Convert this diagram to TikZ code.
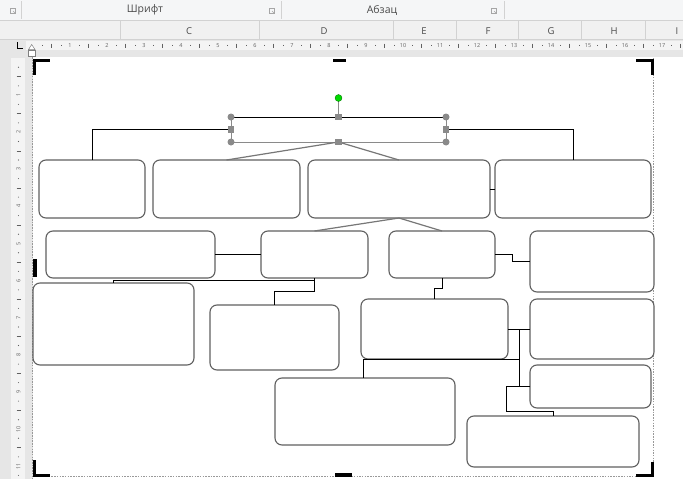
\documentclass[tikz,border=0pt]{standalone}
\usepackage{fontspec}
\setmainfont{Open Sans}
\definecolor{boxc}{HTML}{606060}
\definecolor{slant}{HTML}{777777}
\definecolor{handle}{HTML}{8A8A8A}
\definecolor{ribbonbg}{HTML}{F5F6F7}
\definecolor{headbg}{HTML}{F1F1F1}
\definecolor{rulerbg}{HTML}{E6E6E6}
\definecolor{rulerstrip}{HTML}{F4F4F4}
\definecolor{rtext}{HTML}{606060}
\definecolor{gtext}{HTML}{4A4A4A}
\definecolor{sepc}{HTML}{D2D2D2}
\begin{document}
\begin{tikzpicture}[x=1pt,y=-1pt,
  box/.style={draw=boxc, line width=1.1pt, rounded corners=7pt, inner sep=0pt, outer sep=0pt, fill=white},
  conn/.style={draw=black, line width=0.75pt},
  sconn/.style={draw=slant, line width=1.2pt},
  hcirc/.style={circle, fill=handle, inner sep=0pt, minimum size=7pt},
  hsq/.style={rectangle, fill=handle, inner sep=0pt, minimum size=6.5pt},
  cmark/.style={fill=black},
  rnum/.style={font=\fontsize{5.5}{6}\selectfont, text=rtext, inner sep=0pt},
  colletter/.style={font=\fontsize{9.5}{11}\selectfont, text=gtext, inner sep=0pt},
  grouplabel/.style={font=\fontsize{10.5}{12}\selectfont, text=gtext, inner sep=0pt},
  launcher/.style={draw=gray!70, line width=0.5pt},
  pagedash/.style={draw=gray!80, line width=0.6pt, dash pattern=on 1.5pt off 1.2pt}
]
\useasboundingbox (0,0) rectangle (683,479);
% ---------- backgrounds ----------
\fill[ribbonbg] (0,0) rectangle (683,20);
\fill[headbg] (0,20) rectangle (683,40);
\draw[sepc, line width=0.6pt] (0,20.5) -- (683,20.5);
\draw[sepc, line width=0.6pt] (0,39.5) -- (683,39.5);
\fill[rulerbg] (0,40) rectangle (683,479);
\fill[rulerstrip] (26,41) rectangle (683,50);
\fill[rulerstrip] (11,58) rectangle (25,479);
\fill[white] (32.5,57) rectangle (683,479);
% ---------- ribbon ----------
\foreach \sx in {21,281,504} \draw[sepc, line width=0.6pt] (\sx,1) -- (\sx,19);
\node[grouplabel] (lfont) at (145,10) {Шрифт};
\node[grouplabel] (lpara) at (382,10) {Абзац};
\foreach \lx/\nm in {13/la,272/lb,494/lc}{
  \node[launcher, minimum size=5pt, inner sep=0pt] (\nm) at (\lx,11) {};
  \draw[gray!70, line width=0.5pt] (\nm.center) -- (\nm.south east);
}
% ---------- column headers ----------
\foreach \cx in {120.6,259,393,456,518,581,645} \draw[sepc, line width=0.7pt] (\cx,21) -- (\cx,39);
\node[colletter] (cC) at (189,31) {C};
\node[colletter] (cD) at (324,31) {D};
\node[colletter] (cE) at (424,31) {E};
\node[colletter] (cF) at (488,31) {F};
\node[colletter] (cG) at (551,31) {G};
\node[colletter] (cH) at (614,31) {H};
\node[colletter] (cI) at (677,31) {I};
% ---------- top ruler ----------
\foreach \k in {1,...,17} \node[rnum] (rt\k) at ({33+37*\k},45.5) {\k};
\foreach \k in {0,...,17}{
  \draw[rtext, line width=0.5pt] ({33+37*(\k+0.25)},44.8) -- ({33+37*(\k+0.25)},46.2);
  \draw[rtext, line width=0.5pt] ({33+37*(\k+0.5)},43.5) -- ({33+37*(\k+0.5)},47.5);
  \draw[rtext, line width=0.5pt] ({33+37*(\k+0.75)},44.8) -- ({33+37*(\k+0.75)},46.2);
}
\draw[black, line width=1pt] (17,42) -- (17,48) -- (23,48);
\draw[gray, fill=white, line width=0.5pt] (28.5,49.5) -- (31.7,44.5) -- (35,49.5) -- cycle;
\draw[gray, fill=white, line width=0.5pt] (28.5,50.5) rectangle (35,56.5);
% ---------- left ruler ----------
\foreach \k in {1,...,11} \node[rnum, rotate=90] (rl\k) at (18.5,{58+37.1*\k}) {\k};
\foreach \k in {0,...,11}{
  \fill[rtext] (18.5,{58+37.1*(\k+0.25)}) circle (0.55pt);
  \draw[rtext, line width=0.5pt] (16.5,{58+37.1*(\k+0.5)}) -- (20.5,{58+37.1*(\k+0.5)});
  \fill[rtext] (18.5,{58+37.1*(\k+0.75)}) circle (0.55pt);
}
% ---------- page border ----------
\draw[pagedash] (32.5,57) -- (32.5,479);
\draw[pagedash] (653.5,58) -- (653.5,476.5);
\draw[pagedash] (32.5,476.5) -- (653.5,476.5);
% canvas marks
\fill[cmark] (33,58.5) rectangle (50,61.5);
\fill[cmark] (33,58.5) rectangle (36,75);
\fill[cmark] (636,58.5) rectangle (653.5,61.5);
\fill[cmark] (650.5,58.5) rectangle (653.5,75);
\fill[cmark] (33,473.5) rectangle (50,476.5);
\fill[cmark] (33,460) rectangle (36,476.5);
\fill[cmark] (636,473.5) rectangle (654,476.5);
\fill[cmark] (651,461.5) rectangle (654,476.5);
\fill[cmark] (333,58.5) rectangle (346,61.5);
\fill[cmark] (335,473) rectangle (352,476.5);
\fill[cmark] (33,259) rectangle (36.5,277);
\fill[cmark] (649.5,259) rectangle (653.5,276);
% ---------- boxes ----------
\node[box, minimum width=106pt, minimum height=58pt] (A) at (92,189) {};
\node[box, minimum width=147pt, minimum height=58pt] (B) at (226.5,189) {};
\node[box, minimum width=182pt, minimum height=58pt] (C) at (399,189) {};
\node[box, minimum width=156pt, minimum height=58pt] (D) at (573,189) {};
\node[box, minimum width=169pt, minimum height=47pt] (E) at (130.5,254.5) {};
\node[box, minimum width=107pt, minimum height=47pt] (G) at (314.5,254.5) {};
\node[box, minimum width=106pt, minimum height=47pt] (H) at (442,254.5) {};
\node[box, minimum width=124pt, minimum height=61pt] (I) at (592,261.5) {};
\node[box, minimum width=161pt, minimum height=82pt] (J) at (113.5,324) {};
\node[box, minimum width=129pt, minimum height=65pt] (K) at (274.5,337.5) {};
\node[box, minimum width=147pt, minimum height=60pt] (L) at (434.5,329) {};
\node[box, minimum width=124pt, minimum height=60pt] (M) at (592,329) {};
\node[box, minimum width=121pt, minimum height=43pt] (N) at (590.5,386.5) {};
\node[box, minimum width=180pt, minimum height=67pt] (O) at (365,411.5) {};
\node[box, minimum width=172pt, minimum height=51pt] (P) at (553,441.5) {};
% selected top shape
\node[draw=handle, line width=1pt, minimum width=215pt, minimum height=25pt, inner sep=0pt, outer sep=0pt] (T) at (338.5,129.5) {};
\draw[black, line width=0.9pt] (T.north west) -- (T.north east);
% ---------- connectors ----------
\draw[conn] (T.west) -| (A.north);
\draw[conn] (T.east) -| (D.north);
\draw[sconn] (T.south) -- (B.north);
\draw[sconn] (T.south) -- (C.north);
\draw[conn] (C.east) -- (D.west);
\draw[sconn] (C.south) -- (G.north);
\draw[sconn] (C.south) -- (H.north);
\draw[conn] (E.east) -- (G.west);
\draw[conn] (H.east) -- ++(17,0) |- (I.west);
\draw[conn] (G.south) -- ++(0,2.3) -| (J.north);
\draw[conn] (G.south) -- ++(0,13.5) -| (K.north);
\draw[conn] (H.south) -- ++(0,10) -| (L.north);
\draw[conn] (L.east) -- (M.west);
\draw[conn] (L.east) -- ++(11,0) |- (N.west);
\draw[conn] ([xshift=11pt]L.south east) -| ([xshift=-2pt]O.north);
\draw[conn] (N.west) -- ++(-23.3,0) |- ([yshift=4.3pt]P.north) -- (P.north);
% ---------- handles ----------
\coordinate (rot) at (338.5,98);
\draw[handle, line width=0.8pt] (T.north) -- (rot);
\node[circle, fill=green!85!black, draw=green!40!black, line width=0.3pt, inner sep=0pt, minimum size=7pt] (rh) at (rot) {};
\foreach \a in {north west,north east,south west,south east} \node[hcirc] at (T.\a) {};
\foreach \a in {north,south,west,east} \node[hsq] at (T.\a) {};
\end{tikzpicture}
\end{document}
